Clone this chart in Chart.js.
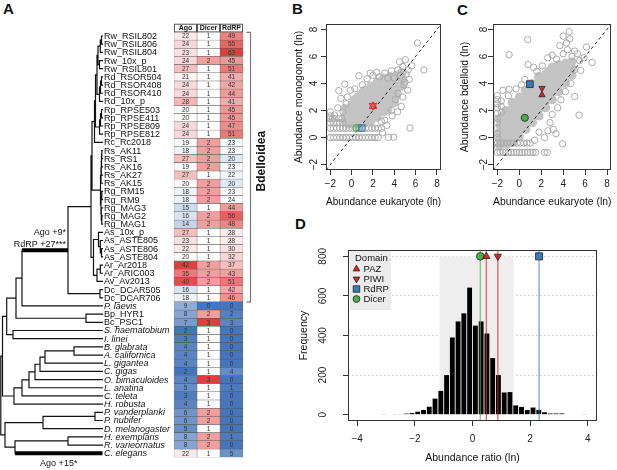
<!DOCTYPE html>
<html>
<head>
<meta charset="utf-8">
<title>Small RNA pathway genes in bdelloids</title>
<script src="https://cdn.jsdelivr.net/npm/chart.js@4.4.1/dist/chart.umd.min.js"></script>
<style>
  html,body{margin:0;padding:0;background:#fff}
  body{position:relative;width:617px;height:470px;overflow:hidden;font-family:"Liberation Sans",Arial,sans-serif}
  canvas{position:absolute}
  .tag{position:absolute;font-size:15px;font-weight:bold;line-height:1;color:#111}
</style>
</head>
<body>
<div class="tag" style="left:3px;top:1px">A</div>
<div class="tag" style="left:292px;top:1px">B</div>
<div class="tag" style="left:457px;top:2px">C</div>
<div class="tag" style="left:295px;top:216px">D</div>
<canvas id="tree" width="172" height="470" style="left:0;top:0"></canvas>
<canvas id="heat" width="115" height="470" style="left:165px;top:0"></canvas>
<canvas id="mono" width="154" height="200" style="left:293px;top:14px"></canvas>
<canvas id="bdel" width="158" height="200" style="left:459px;top:14px"></canvas>
<canvas id="hist" width="307" height="235" style="left:298px;top:233px"></canvas>
<script>
// ---------- panel A : tree + gene counts ----------
const leafNames = ['Rw_RSIL802','Rw_RSIL806','Rw_RSIL804','Rw_10x_p','Rw_RSIL801','Rd_RSOR504','Rd_RSOR408','Rd_RSOR410','Rd_10x_p',
  'Rp_RPSE503','Rp_RPSE411','Rp_RPSE809','Rp_RPSE812','Rc_Rc2018','Rs_AK11','Rs_RS1','Rs_AK16','Rs_AK27','Rs_AK15','Rg_RM15','Rg_RM9',
  'Rg_MAG3','Rg_MAG2','Rg_MAG1','As_10x_p','As_ASTE805','As_ASTE806','As_ASTE804','Ar_Ar2018','Ar_ARIC003','Av_Av2013','Dc_DCAR505',
  'Dc_DCAR706','P. laevis','Bp_HYR1','Bc_PSC1','S. haematobium','I. linei','B. glabrata','A. californica','L. gigantea','C. gigas',
  'O. bimaculoides','L. anatina','C. teleta','H. robusta','P. vanderplanki','P. nubifer','D. melanogaster','H. exemplaris',
  'R. varieornatus','C. elegans'];
const columns = ['Ago','Dicer','RdRP'];
const agoCounts   = [22,24,23,24,27,21,24,24,28,20,20,24,24,19,18,27,19,27,20,18,18,15,16,14,27,23,22,20,42,35,40,16,18,
                     9,8,7,2,3,4,4,4,2,4,5,3,4,6,6,5,8,8,22];
const dicerCounts = [1,1,1,2,1,1,1,1,1,1,1,1,1,2,2,2,2,1,2,2,2,1,2,2,1,1,1,1,2,2,2,1,1,
                     0,2,3,1,1,1,1,1,1,3,1,1,1,2,2,1,2,2,1];
const rdrpCounts  = [49,55,63,45,51,41,42,44,41,45,45,47,51,23,23,20,23,22,20,23,24,44,56,48,28,28,30,32,37,43,51,42,46,
                     0,2,3,0,0,0,0,0,4,0,1,0,0,0,0,0,1,0,5];
// colour scale per column: low (blue) / neutral (white) / high (red)
const colorLow  = [2, 0, 0];
const colorMid  = [19.5, 1, 24];
const colorHigh = [42, 3, 63];
const groups = [{name:'Bdelloidea', from:0, to:32}];

// tree: [node depth, child, child]; numbers are leaf rows
const tipDepth = 102.5;
const rotaria = [92,
  [94.5, [95.5, [97, [98, [100.3, [101.5, 0, 1], 2], [99.5, 3, 4]],
                     [99.5, [100.5, [101.5, 5, 6], 7], 8]],
               [99.5, [100.5, [101.5, 9, 10], 11], 12]], 13],
  [100.5, [101, [101.3, [101.5, [101.8, 14, 15], 16], 17], 18],
          [101, [101.8, 19, 20], [101.3, 21, [101.8, 22, 23]]]]];
const adineta = [93.5, [98.5, 24, [100.3, 25, [101.5, 26, 27]]], [97, [100.3, 28, 29], 30]];
const bdelloidea = [68, [91, rotaria, adineta], [100, 31, 32]];
const tree = [0.8,
  [2.5,
    [6.7, [16, [22, bdelloidea, 33], [86, 34, 35]], [13, 36, 37]],
    [14, [22, [29, [35, [40, [45, [74, 38, 39], 40], 41], 42], 43], 44], 45]],
  [5, [43, [95, 46, 47], 48], [15, [68, 49, 50], 51]]];
const thickBranches = [bdelloidea, 51];
const branchNotes = [
  {branch: bdelloidea, text: ['Ago +9*', 'RdRP +27***'], side: 'above'},
  {branch: 51, text: ['Ago +15*'], side: 'below'}
];

// ---------- panels B / C : domain abundance ----------
const axisRange = [-2.4, 8.4];
const axisTicks = [-2, 0, 2, 4, 6, 8];
const diagonal = [[-2.4, -2.4], [8.4, 8.4]];
const domainNames  = ['PAZ', 'PIWI', 'RdRP', 'Dicer'];
const domainColors = ['#e2231f', '#e2231f', '#3b7cba', '#4daf4a'];
const domainShapes = ['triangle', 'triangle', 'rect', 'circle'];
const domainRot    = [0, 180, 0, 0];
const monoDomains  = [[2.0, 2.31], [2.0, 2.36], [0.95, 0.71], [0.47, 0.71]];
const bdelDomains  = [[2.07, 3.15], [2.07, 3.65], [0.96, 3.95], [0.5, 1.46]];

const monoCore = [
  [-0.6,1.2],[-0.55,1.7],[-0.6,2.15],[-0.3,1.0],[-0.3,1.9],
  [0.0,1.0],[0.05,1.5],[0.0,2.0],[0.05,2.45],[0.3,1.25],[0.3,2.25],[0.3,2.8],
  [0.6,1.05],[0.6,1.6],[0.65,2.1],[0.6,2.6],[0.55,3.0],[0.9,1.35],[0.9,2.35],[0.9,3.2],
  [1.2,1.1],[1.2,1.6],[1.25,2.1],[1.2,2.6],[1.2,3.1],[1.15,3.45],[1.5,1.4],[1.5,2.4],[1.5,3.5],
  [1.8,1.2],[1.8,1.8],[1.85,2.3],[1.8,2.8],[1.8,3.3],[1.8,3.8],[2.1,1.6],[2.1,2.6],[2.1,3.6],
  [2.4,1.5],[2.4,2.1],[2.45,2.6],[2.4,3.1],[2.4,3.6],[2.4,4.1],[2.7,1.9],[2.7,2.9],[2.7,3.9],
  [3.0,1.9],[3.0,2.5],[3.05,3.0],[3.0,3.5],[3.0,4.0],[3.0,4.4],[3.3,2.4],[3.3,3.4],[3.3,4.3],
  [3.4,2.1],[3.6,2.6],[3.6,3.0],[3.65,3.5],[3.6,4.0],[3.6,4.5],[3.9,3.3],[3.9,4.3],
  [4.0,2.6],[4.2,3.1],[4.2,3.6],[4.2,4.1],[4.25,4.6],[4.45,3.9],
  [4.7,3.8],[4.75,4.3],[4.7,4.8]
];
const monoOpen = [
  // quantised rows and first column
  [-2.0,0],[-1.7,0],[-1.4,0],[-1.1,0],[-0.8,0],[-0.5,0],[-0.2,0],[0.1,0],[0.4,0],[0.7,0],[1.0,0],[1.3,0],[1.6,0],
  [1.9,0],[2.2,0],[2.5,0],[3.45,0.02],[3.95,0.02],
  [-2.0,0.69],[-1.7,0.69],[-1.4,0.69],[-1.1,0.69],[-0.8,0.69],[-0.5,0.69],[-0.2,0.69],[0.1,0.69],[0.4,0.69],
  [0.7,0.69],[1.0,0.69],[1.3,0.69],[1.6,0.69],[1.9,0.69],[2.2,0.69],[2.5,0.69],[2.8,0.69],[5.47,0.71],
  [-2.0,1.1],[-1.7,1.1],[-1.4,1.1],[-1.1,1.1],[-0.8,1.1],[-2.0,1.39],[-1.6,1.39],[-1.2,1.39],[-0.9,1.39],
  [-2.0,1.6],[-2.0,1.9],
  // scattered genes
  [6.17,7.0],[6.78,5.0],[5.65,5.3],[5.04,5.76],[4.8,5.26],[4.34,5.0],[3.73,4.94],[3.12,4.77],[2.36,4.82],
  [1.45,4.35],[0.68,4.57],[-0.63,3.95],[-1.2,3.47],[-1.6,1.66],[-1.0,2.9],[-0.4,3.0],[-0.1,3.5],[4.1,2.8],
  [4.65,2.3],[3.73,2.03],[5.26,3.5],[4.34,3.27],[3.12,1.28],[1.75,4.77],[2.6,4.5],[3.4,4.4],[4.0,4.4],
  [4.6,4.6],[5.1,4.7],[5.4,4.3],[4.9,3.9],[5.3,5.0],[4.5,5.6],[2.0,4.6],[1.0,3.9],[0.3,3.6],[-0.5,2.5],
  [-1.3,2.2],[-0.8,1.9],[-1.8,1.4],[3.8,1.6],[4.3,1.9],[2.8,1.2],[3.3,0.9],[2.9,0.35],[4.8,3.0],[5.0,4.1]
];
const bdelCore = [
  [-1.8,-0.6],[-1.8,-0.1],[-1.8,0.4],[-1.75,0.9],[-1.8,1.4],[-1.5,-0.35],[-1.5,0.65],[-1.5,1.6],
  [-1.2,-0.5],[-1.2,0.0],[-1.15,0.5],[-1.2,1.0],[-1.2,1.5],[-1.2,2.0],[-0.9,-0.1],[-0.9,0.9],[-0.9,1.9],
  [-0.6,-0.3],[-0.6,0.2],[-0.55,0.7],[-0.6,1.2],[-0.6,1.7],[-0.6,2.2],[-0.65,2.6],[-0.3,0.35],[-0.3,1.4],[-0.3,2.4],
  [0.0,0.1],[0.0,0.6],[0.05,1.1],[0.0,1.6],[0.0,2.1],[0.0,2.6],[0.0,3.0],[0.3,0.85],[0.3,1.85],[0.3,2.85],
  [0.6,0.6],[0.6,1.1],[0.65,1.6],[0.6,2.1],[0.6,2.6],[0.6,3.1],[0.55,3.5],[0.9,1.35],[0.9,2.35],[0.9,3.35],
  [1.2,1.1],[1.2,1.6],[1.25,2.1],[1.2,2.6],[1.2,3.1],[1.2,3.6],[1.15,4.0],[1.5,1.85],[1.5,2.85],[1.5,3.85],
  [1.8,1.6],[1.8,2.1],[1.85,2.6],[1.8,3.1],[1.8,3.6],[1.8,4.1],[1.75,4.5],[2.1,2.4],[2.1,3.4],[2.1,4.4],
  [2.4,2.2],[2.4,2.7],[2.45,3.2],[2.4,3.7],[2.4,4.2],[2.4,4.7],[2.7,2.95],[2.7,3.95],[2.7,4.9],
  [3.0,2.8],[3.0,3.3],[3.05,3.8],[3.0,4.3],[3.0,4.8],[3.0,5.2],[3.3,3.55],[3.3,4.55],
  [3.6,3.4],[3.6,3.9],[3.65,4.4],[3.6,4.9],[3.6,5.4],[3.9,4.15],[3.9,5.1],
  [4.2,4.0],[4.2,4.5],[4.25,5.0],[4.2,5.5],[4.5,4.8],
  [4.8,4.6],[4.8,5.1],[4.8,5.6]
];
const bdelOpen = [
  [-2.0,-1.1],[-1.75,-1.1],[-1.5,-1.1],[-1.25,-1.1],[-1.0,-1.1],[-0.75,-1.1],[-0.5,-1.1],[-0.25,-1.1],[0.0,-1.1],
  [0.25,-1.1],[0.5,-1.1],[0.75,-1.1],[1.0,-1.1],[1.25,-1.1],[1.5,-1.1],[2.3,-1.1],[2.55,-1.1],
  [-2.0,-0.41],[-1.7,-0.41],[-1.4,-0.41],[-1.1,-0.41],[-0.8,-0.41],[-0.5,-0.41],[-0.2,-0.41],[0.1,-0.41],[0.4,-0.41],
  [0.7,-0.41],[1.0,-0.41],
  [-2.0,-0.7],[-2.0,0.0],[-2.0,0.3],[-2.0,0.7],[-2.0,1.1],[-2.0,1.4],[-2.0,1.8],[-2.0,2.2],[-2.0,2.5],[-2.0,2.8],
  [-2.0,3.1],[-1.65,1.9],[-1.65,2.3],[-1.65,2.7],
  [-0.93,6.13],[0.77,7.25],[0.8,5.4],[4.0,7.5],[4.55,7.83],[4.6,7.3],[5.05,6.4],[5.3,6.2],[6.12,6.7],[6.64,5.56],
  [5.6,4.97],[5.05,3.03],[5.45,1.66],[3.95,-0.46],[3.34,0.29],[-0.93,3.57],[-1.5,3.5],[-1.0,3.1],[-0.3,3.6],
  [0.2,3.9],[0.5,4.3],[1.6,4.9],[2.1,5.3],[2.6,5.9],[3.0,6.1],[3.4,5.8],[4.0,6.2],[4.4,6.5],[4.8,6.0],[5.5,5.7],
  [5.0,5.0],[4.7,4.0],[4.2,3.4],[3.8,2.8],[3.5,2.2],[3.0,1.7],[2.8,1.1],[3.1,0.6],[2.6,0.5],[5.9,5.9],[1.3,5.2],
  [3.7,6.8],[4.3,7.0],[2.3,0.0],[1.8,0.4],[1.4,-0.2]
];

// ---------- panel D : abundance ratio histogram ----------
const histBins   = [-3.1,-2.7,-2.5,-2.3,-2.1,-1.9,-1.7,-1.5,-1.3,-1.1,-0.9,-0.7,-0.5,-0.3,-0.1,0.1,0.3,0.5,0.7,0.9,
                    1.1,1.3,1.5,1.7,1.9,2.1,2.3,2.5,2.7,2.9,3.1,3.9];
const histCounts = [2,2,3,5,8,15,24,40,81,120,200,390,471,512,642,450,471,410,286,200,
                    112,114,47,39,23,36,24,12,6,6,6,2];
const domainRatio = [0.48, 0.88, 2.31, 0.27];
const shadeRange = [-1.15, 1.43];
const shadeTop = 800;
const histXTicks = [-4, -2, 0, 2, 4];
const histYTicks = [0, 200, 400, 600, 800];
const legendTitle = 'Domain';

(function(){
  const FONT = '"Liberation Sans", Arial, Helvetica, sans-serif';
  Chart.defaults.font.family = FONT;
  Chart.defaults.animation = false;
  Chart.defaults.events = [];
  Chart.defaults.plugins.legend.display = false;
  Chart.defaults.plugins.tooltip.enabled = false;

  const pts = a => a.map(p => ({x: p[0], y: p[1]}));
  const tickText = v => v < 0 ? '\u2212' + Math.abs(v) : String(v);
  const alpha = (hex, a) => {
    const n = parseInt(hex.slice(1), 16);
    return `rgba(${n >> 16},${(n >> 8) & 255},${n & 255},${a})`;
  };

  /* ====== tree layout ====== */
  const GAP = {x: null, y: null};
  const branches = [], thick = [], info = new Map();
  function place(n){
    if(typeof n === 'number') return {x: tipDepth, y: n, ref: n};
    const kids = n.slice(1).map(place);
    const y0 = kids[0].y, y1 = kids[kids.length - 1].y;
    branches.push({x: n[0], y: y0}, {x: n[0], y: y1}, GAP);
    kids.forEach(k => {
      const seg = thickBranches.includes(k.ref) ? thick : branches;
      seg.push({x: n[0], y: k.y}, {x: k.x, y: k.y}, GAP);
      info.set(k.ref, {x: k.x, y: k.y, px: n[0]});
    });
    return {x: n[0], y: (y0 + y1) / 2, ref: n};
  }
  place(tree);

  const treeText = {
    id: 'treeText',
    afterDatasetsDraw(chart){
      const {ctx, scales: {x, y}} = chart;
      ctx.save();
      ctx.fillStyle = '#111';
      ctx.textBaseline = 'middle';
      leafNames.forEach((name, i) => {
        ctx.font = (name.includes('. ') ? 'italic ' : '') + '9px ' + FONT;
        ctx.fillText(name, x.getPixelForValue(tipDepth) + 1.5, y.getPixelForValue(i) + 0.5);
      });
      ctx.font = '9px ' + FONT;
      branchNotes.forEach(n => {
        const b = info.get(n.branch);
        const yp = y.getPixelForValue(b.y);
        if(n.side === 'above'){
          ctx.textAlign = 'right';
          n.text.forEach((t, k) => ctx.fillText(t, x.getPixelForValue(b.x) - 2, yp - 6 - (n.text.length - 1 - k) * 12));
        } else {
          ctx.textAlign = 'center';
          n.text.forEach((t, k) => ctx.fillText(t, (x.getPixelForValue(b.x) + x.getPixelForValue(b.px)) / 2, yp + 10 + k * 11));
        }
      });
      ctx.restore();
    }
  };

  new Chart(document.getElementById('tree'), {
    type: 'scatter',
    data: {datasets: [
      {data: branches, showLine: true, spanGaps: false, borderColor: '#111', borderWidth: 1.2,
       borderCapStyle: 'square', pointRadius: 0},
      {data: thick, showLine: true, spanGaps: false, borderColor: '#000', borderWidth: 4,
       borderCapStyle: 'butt', pointRadius: 0}
    ]},
    options: {
      responsive: false,
      layout: {padding: {left: 0, right: 0, top: 31.9, bottom: 12.7}},
      scales: {
        x: {type: 'linear', min: 0, max: 172, display: false},
        y: {type: 'linear', min: -0.5, max: leafNames.length - 0.5, reverse: true, display: false}
      }
    },
    plugins: [treeText]
  });

  /* ====== heatmap ====== */
  const counts = [agoCounts, dicerCounts, rdrpCounts];
  const RED = [222, 62, 60], BLUE = [69, 117, 186];
  function cellColor(v, j){
    let t, end;
    if(v >= colorMid[j]){ t = (v - colorMid[j]) / (colorHigh[j] - colorMid[j]); end = RED; }
    else { t = (colorMid[j] - v) / (colorMid[j] - colorLow[j]); end = BLUE; }
    t = Math.max(0, Math.min(1, t));
    return `rgb(${end.map(e => Math.round(255 + (e - 255) * t))})`;
  }

  const heatText = {
    id: 'heatText',
    afterDatasetsDraw(chart){
      const {ctx, chartArea: a, scales: {x, y}} = chart;
      ctx.save();
      ctx.textAlign = 'center';
      ctx.textBaseline = 'middle';
      ctx.fillStyle = '#333';
      ctx.font = '6.5px ' + FONT;
      counts.forEach((col, j) => {
        chart.getDatasetMeta(j).data.forEach((bar, i) => {
          ctx.fillText(String(col[i]), (bar.x + bar.base) / 2, bar.y + 0.5);
        });
      });
      // header row
      const h = y.getPixelForValue(1) - y.getPixelForValue(0);
      ctx.font = 'bold 7px ' + FONT;
      ctx.strokeStyle = '#555';
      ctx.lineWidth = 1;
      columns.forEach((c, j) => {
        const x0 = x.getPixelForValue(j), x1 = x.getPixelForValue(j + 1);
        ctx.fillStyle = '#fff';
        ctx.fillRect(x0, a.top - h, x1 - x0, h);
        ctx.strokeRect(x0 + 0.5, a.top - h + 0.5, x1 - x0 - 1, h - 0.5);
        ctx.fillStyle = '#111';
        ctx.fillText(c, (x0 + x1) / 2, a.top - h / 2);
      });
      // clade bracket
      groups.forEach(g => {
        const top = y.getPixelForValue(g.from) - h / 2 + 0.5;
        const bot = y.getPixelForValue(g.to) + h / 2;
        const bx = a.right + 7.5;
        ctx.strokeStyle = '#777';
        ctx.lineWidth = 1.2;
        ctx.beginPath();
        ctx.moveTo(bx - 4, top); ctx.lineTo(bx, top); ctx.lineTo(bx, bot); ctx.lineTo(bx - 4, bot);
        ctx.stroke();
        ctx.save();
        ctx.translate(bx + 11, (top + bot) / 2 - 6);
        ctx.rotate(-Math.PI / 2);
        ctx.fillStyle = '#111';
        ctx.font = 'bold 12px ' + FONT;
        ctx.fillText(g.name, 0, 0);
        ctx.restore();
      });
      ctx.restore();
    }
  };

  new Chart(document.getElementById('heat'), {
    type: 'bar',
    data: {
      labels: leafNames,
      datasets: columns.map((c, j) => ({
        label: c,
        data: counts[j].map(() => [j, j + 1]),
        backgroundColor: counts[j].map(v => cellColor(v, j)),
        borderColor: '#555', borderWidth: 0.5, borderSkipped: false,
        grouped: false, barPercentage: 1, categoryPercentage: 1
      }))
    },
    options: {
      indexAxis: 'y',
      responsive: false,
      layout: {padding: {left: 9, right: 37, top: 31.9, bottom: 12.7}},
      scales: {
        x: {type: 'linear', min: 0, max: columns.length, display: false},
        y: {type: 'category', display: false, offset: true, grid: {offset: true}}
      }
    },
    plugins: [heatText]
  });

  /* ====== R style axes ====== */
  const rBox = {
    id: 'rBox',
    afterDatasetsDraw(chart){
      const {ctx, chartArea: a} = chart;
      ctx.save();
      ctx.strokeStyle = '#333';
      ctx.lineWidth = 1;
      ctx.strokeRect(Math.round(a.left) + 0.5, Math.round(a.top) + 0.5,
                     Math.round(a.right - a.left) - 1, Math.round(a.bottom - a.top) - 1);
      ctx.restore();
    }
  };

  function rAxis(o){
    const horiz = !!o.horizontal;
    return {
      type: 'linear', min: o.min, max: o.max, offset: false,
      afterBuildTicks: s => { s.ticks = o.ticks.map(v => ({value: v})); },
      afterFit: s => { if(horiz) s.height = o.size; else s.width = o.size; },
      grid: {
        offset: false,
        drawOnChartArea: !!o.gridColor,
        color: o.gridColor ? (c => (c.tick && c.tick.value === 0) ? 'rgba(0,0,0,0)' : o.gridColor) : '#333',
        drawTicks: true, tickLength: 5, tickColor: '#333', tickWidth: 1, lineWidth: 1
      },
      border: {display: false, dash: o.gridColor ? [1.5, 2.5] : []},
      ticks: {
        autoSkip: false, callback: v => tickText(v), font: {size: 10}, color: '#222',
        padding: o.pad, minRotation: horiz ? 0 : 90, maxRotation: horiz ? 0 : 90,
        crossAlign: horiz ? 'near' : 'center'
      },
      title: {display: true, text: o.title, font: {size: 10.5}, color: '#111',
              padding: {top: o.tpad || 0, bottom: o.tpad || 0}}
    };
  }

  /* ====== scatter panels ====== */
  function domainSets(pos, faded, sizes){
    return domainNames.map((n, k) => ({
      label: n,
      data: [{x: pos[k][0], y: pos[k][1]}],
      pointStyle: domainShapes[k], pointRotation: domainRot[k], pointRadius: sizes[k],
      pointBackgroundColor: faded ? alpha(domainColors[k], 0.35) : domainColors[k],
      pointBorderColor: faded ? alpha(domainColors[k], 0.85) : '#222',
      pointBorderWidth: faded ? 1 : 0.8
    }));
  }

  function scatterPanel(id, o){
    return new Chart(document.getElementById(id), {
      type: 'scatter',
      data: {datasets: [
        ...domainSets(o.marks, o.faded, o.sizes),
        {type: 'line', data: pts(diagonal), borderColor: '#222', borderWidth: 1, borderDash: [3, 3], pointRadius: 0},
        {data: pts(o.open), pointRadius: 3.2, pointBackgroundColor: 'rgba(0,0,0,0)',
         pointBorderColor: '#aaaaaa', pointBorderWidth: 1},
        {data: pts(o.core), pointRadius: 4.6, pointBackgroundColor: '#c4c4c4',
         pointBorderColor: '#c4c4c4', pointBorderWidth: 0}
      ]},
      options: {
        responsive: false,
        layout: {padding: {left: 0, top: 10, right: o.padRight, bottom: 0}},
        scales: {
          x: rAxis({horizontal: true, min: axisRange[0], max: axisRange[1], ticks: axisTicks,
                    size: 44, pad: 3, title: 'Abundance eukaryote (ln)', tpad: 5.7}),
          y: rAxis({min: axisRange[0], max: axisRange[1], ticks: axisTicks,
                    size: o.ySize, pad: o.yPad, title: o.yTitle, tpad: 0})
        }
      },
      plugins: [rBox]
    });
  }

  scatterPanel('mono', {yTitle: 'Abundance monogonont (ln)', core: monoCore, open: monoOpen,
    marks: monoDomains, faded: true, sizes: [4.5, 4.5, 4.8, 3.6], ySize: 33, yPad: 1.3, padRight: 4});
  scatterPanel('bdel', {yTitle: 'Abundance bdelloid (ln)', core: bdelCore, open: bdelOpen,
    marks: bdelDomains, faded: false, sizes: [3.6, 3.6, 4.8, 3.6], ySize: 34, yPad: -1.5, padRight: 3});

  /* ====== histogram ====== */
  const markSize = [4.2, 4.2, 5, 3.8];
  const domainLegend = {
    id: 'domainLegend',
    afterDraw(chart){
      const {ctx, chartArea: a} = chart;
      ctx.save();
      ctx.fillStyle = '#ebebeb';
      ctx.fillRect(a.left + 2, a.top + 1, 41, 59);
      ctx.fillStyle = '#111';
      ctx.font = '9.5px ' + FONT;
      ctx.textBaseline = 'middle';
      ctx.textAlign = 'left';
      ctx.fillText(legendTitle, a.left + 7, a.top + 8.5);
      domainNames.forEach((n, k) => {
        const y = a.top + 19 + k * 10;
        ctx.fillStyle = domainColors[k];
        ctx.strokeStyle = '#222';
        ctx.lineWidth = 0.8;
        Chart.helpers.drawPoint(ctx, {pointStyle: domainShapes[k], rotation: domainRot[k],
          radius: markSize[k] - 0.4, borderWidth: 0.8}, a.left + 8.5, y);
        ctx.fillStyle = '#111';
        ctx.fillText(n, a.left + 15.5, y);
      });
      ctx.restore();
    }
  };

  const histSets = [];
  domainNames.forEach((n, k) => histSets.push({
    type: 'scatter', label: n, data: [{x: domainRatio[k], y: shadeTop}],
    pointStyle: domainShapes[k], pointRotation: domainRot[k], pointRadius: markSize[k],
    pointBackgroundColor: domainColors[k], pointBorderColor: '#222', pointBorderWidth: 0.8
  }));
  domainNames.forEach((n, k) => histSets.push({
    type: 'line', data: [{x: domainRatio[k], y: -40}, {x: domainRatio[k], y: 840}],
    borderColor: alpha(domainColors[k], 0.7), borderWidth: 1.3, pointRadius: 0
  }));
  histSets.push({
    type: 'bar', data: histBins.map((b, i) => ({x: b, y: histCounts[i]})),
    backgroundColor: '#000', borderWidth: 0, barPercentage: 0.84, categoryPercentage: 1
  });
  histSets.push({
    type: 'line', data: [{x: shadeRange[0], y: shadeTop}, {x: shadeRange[1], y: shadeTop}],
    fill: 'origin', backgroundColor: '#eeeeee', borderWidth: 0, pointRadius: 0
  });

  new Chart(document.getElementById('hist'), {
    type: 'bar',
    data: {datasets: histSets},
    options: {
      responsive: false,
      layout: {padding: {left: 0, top: 10, right: 8, bottom: 0}},
      scales: {
        x: rAxis({horizontal: true, min: -4.32, max: 4.32, ticks: histXTicks, size: 47, pad: 7,
                  title: 'Abundance ratio (ln)', tpad: 3.7}),
        y: rAxis({min: -32, max: 832, ticks: histYTicks, size: 50, pad: 11, title: 'Frequency',
                  tpad: 0, gridColor: '#c4c4c4'})
      }
    },
    plugins: [rBox, domainLegend]
  });
})();
</script>
</body>
</html>
